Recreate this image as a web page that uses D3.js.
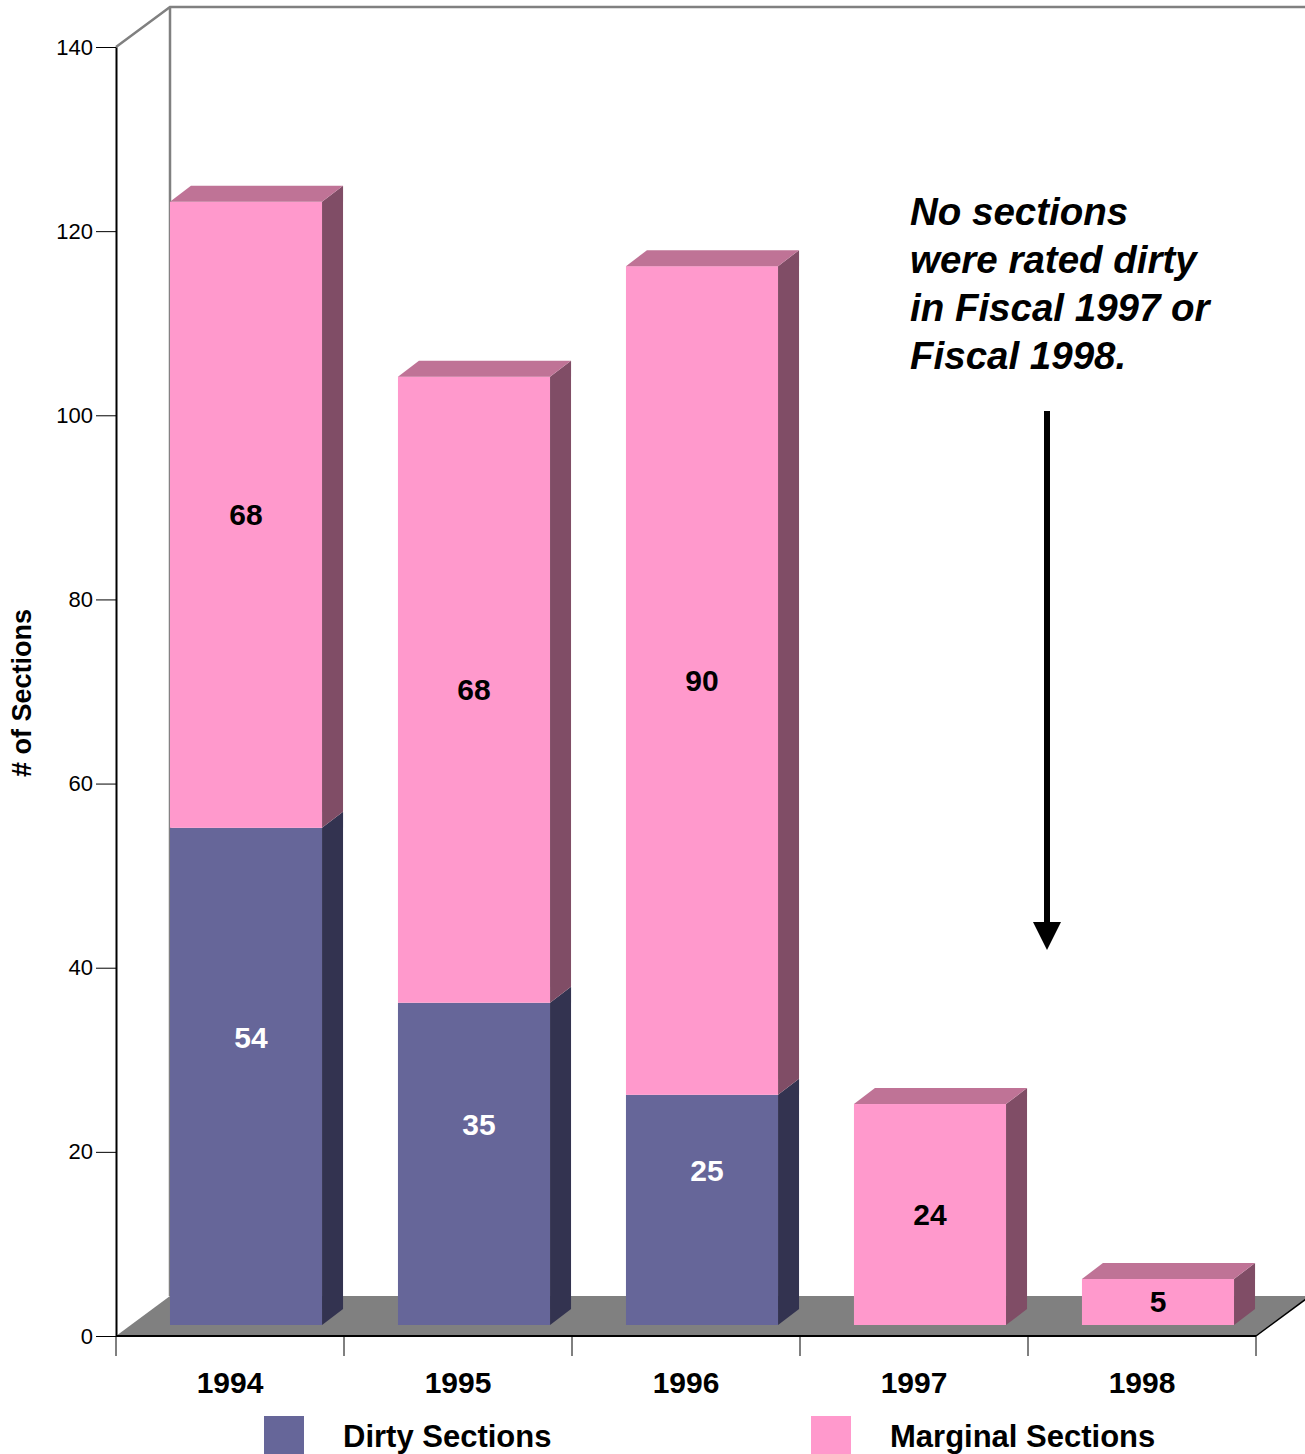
<!DOCTYPE html>
<html>
<head>
<meta charset="utf-8">
<script src="https://cdn.jsdelivr.net/npm/d3@7/dist/d3.min.js"></script>
<style>
  html, body { margin: 0; padding: 0; background: #fff; }
  svg { display: block; font-family: Arial, "Liberation Sans", sans-serif; }
</style>
</head>
<body>
<svg id="chart" width="1305" height="1454"></svg>
<script>
const categories = ["1994", "1995", "1996", "1997", "1998"];
const dirtyValues = [54, 35, 25, 0, 0];
const marginalValues = [68, 68, 90, 24, 5];
const yTickValues = [0, 20, 40, 60, 80, 100, 120, 140];
const seriesNames = ["Dirty Sections", "Marginal Sections"];
const annotationLines = ["No sections", "were rated dirty", "in Fiscal 1997 or", "Fiscal 1998."];

const colors = {
  dirtyFront: "#666699", dirtySide: "#333350", dirtyTop: "#4d4d73",
  margFront: "#FF99CC", margSide: "#804D66", margTop: "#BF7396",
  floor: "#808080", wall: "#808080"
};

(function draw() {
const svg = d3.select("#chart");
const pLeft = 116, pRight = 1256, pBase = 1336, pTop = 47;
const depth = { dx: 54, dy: -40 };      // full floor depth
const front = { dx: 16, dy: -11 };      // bar front plane offset
const barDepth = { dx: 21, dy: -16 };   // bar thickness

const x = d3.scaleBand().domain(categories).range([pLeft, pRight]).paddingInner(0).paddingOuter(0);
const y = d3.scaleLinear().domain([0, 140]).range([pBase, pTop]);
const barW = x.bandwidth() * 0.667;

// back wall lines
const wall = svg.append("g").attr("stroke", colors.wall).attr("stroke-width", 2.5).attr("fill", "none");
wall.append("path").attr("d", d3.line()([
  [pLeft, y(140)], [pLeft + depth.dx, y(140) + depth.dy], [1310, y(140) + depth.dy]
]));
wall.append("line")
  .attr("x1", pLeft + depth.dx).attr("y1", y(140) + depth.dy)
  .attr("x2", pLeft + depth.dx).attr("y2", pBase + depth.dy);

// floor
svg.append("path").attr("fill", colors.floor)
  .attr("d", d3.line()([
    [pLeft, pBase], [pRight, pBase], [pRight + depth.dx, pBase + depth.dy], [pLeft + depth.dx, pBase + depth.dy]
  ]) + "Z");

// bars
const stacks = categories.map((c, i) => ({
  c, segs: [
    { key: "dirty", v0: 0, v1: dirtyValues[i], v: dirtyValues[i] },
    { key: "marg", v0: dirtyValues[i], v1: dirtyValues[i] + marginalValues[i], v: marginalValues[i] }
  ].filter(s => s.v > 0)
}));

const barsG = svg.append("g");
stacks.forEach(st => {
  const l = x(st.c) + front.dx + (x.bandwidth() - barW) / 2;
  const r = l + barW;
  st.segs.forEach((s, j) => {
    const yt = y(s.v1) + front.dy, yb = y(s.v0) + front.dy;
    const fc = s.key === "dirty" ? colors.dirtyFront : colors.margFront;
    const sc = s.key === "dirty" ? colors.dirtySide : colors.margSide;
    const tc = s.key === "dirty" ? colors.dirtyTop : colors.margTop;
    barsG.append("rect").attr("x", l).attr("y", yt).attr("width", barW).attr("height", yb - yt).attr("fill", fc);
    barsG.append("path").attr("fill", sc).attr("d", d3.line()([
      [r, yt], [r + barDepth.dx, yt + barDepth.dy], [r + barDepth.dx, yb + barDepth.dy], [r, yb]
    ]) + "Z");
    if (j === st.segs.length - 1) {
      barsG.append("path").attr("fill", tc).attr("d", d3.line()([
        [l, yt], [l + barDepth.dx, yt + barDepth.dy], [r + barDepth.dx, yt + barDepth.dy], [r, yt]
      ]) + "Z");
    }
    const cx = (l + r) / 2 + (s.key === "dirty" ? 5 : 0);
    const cy = (yt + yb) / 2 - (s.key === "dirty" ? 39 : 0);
    barsG.append("text").attr("x", cx).attr("y", cy)
      .attr("text-anchor", "middle").attr("dominant-baseline", "central")
      .attr("font-size", 30).attr("font-weight", "bold")
      .attr("fill", s.key === "dirty" ? "#fff" : "#000")
      .text(s.v);
  });
});

// y axis
const yAxis = d3.axisLeft(y).tickValues(yTickValues).tickSize(20).tickSizeOuter(0).tickPadding(3);
const yg = svg.append("g").attr("transform", `translate(${pLeft},0)`).call(yAxis);
yg.select(".domain").attr("stroke", "#000").attr("stroke-width", 2);
yg.selectAll(".tick line").attr("stroke", "#000").attr("stroke-width", 1);
yg.selectAll(".tick text").attr("font-size", 22).attr("font-family", "Arial, 'Liberation Sans', sans-serif").attr("fill", "#000");

// x axis
const xg = svg.append("g");
xg.append("line").attr("x1", pLeft).attr("x2", pRight).attr("y1", pBase).attr("y2", pBase)
  .attr("stroke", "#000").attr("stroke-width", 2);
const edges = categories.map(c => x(c)).concat([x.range()[1]]);
xg.selectAll("line.tk").data(edges).join("line").attr("class", "tk")
  .attr("x1", d => d).attr("x2", d => d).attr("y1", pBase).attr("y2", pBase + 20)
  .attr("stroke", "#000").attr("stroke-width", 1);
xg.selectAll("text").data(categories).join("text")
  .attr("x", d => x(d) + x.bandwidth() / 2).attr("y", 1393)
  .attr("text-anchor", "middle").attr("font-size", 30).attr("font-weight", "bold").text(d => d);
svg.append("line").attr("x1", pRight).attr("y1", pBase).attr("x2", pRight + depth.dx).attr("y2", pBase + depth.dy)
  .attr("stroke", "#000").attr("stroke-width", 1.5);

// y title
svg.append("text").attr("transform", "translate(31,693) rotate(-90)")
  .attr("text-anchor", "middle").attr("font-size", 27).attr("font-weight", "bold").text("# of Sections");

// legend
const legendX = [264, 811];
const legendColors = [colors.dirtyFront, colors.margFront];
const lg = svg.append("g");
seriesNames.forEach((n, i) => {
  lg.append("rect").attr("x", legendX[i]).attr("y", 1416).attr("width", 40).attr("height", 40).attr("fill", legendColors[i]);
  lg.append("text").attr("x", legendX[i] + 79).attr("y", 1447).attr("font-size", 31).attr("font-weight", "bold").text(n);
});

// annotation
const ag = svg.append("g");
annotationLines.forEach((t, i) => {
  ag.append("text").attr("x", 910).attr("y", 225 + 48 * i)
    .attr("font-size", 38.5).attr("font-weight", "bold").attr("font-style", "italic").text(t);
});
ag.append("line").attr("x1", 1047).attr("x2", 1047).attr("y1", 411).attr("y2", 925)
  .attr("stroke", "#000").attr("stroke-width", 6);
ag.append("path").attr("fill", "#000").attr("d", d3.line()([[1033, 922], [1061, 922], [1047, 950]]) + "Z");
})();
</script>
</body>
</html>
